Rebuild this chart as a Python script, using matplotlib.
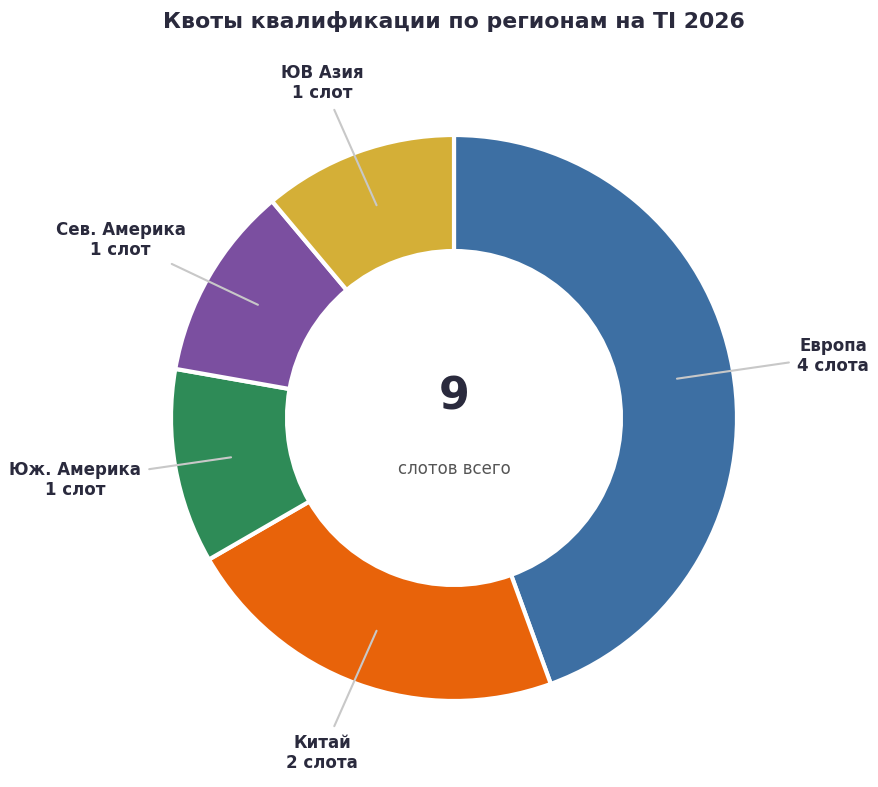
import matplotlib.pyplot as plt
import numpy as np

# данные
regions = ['Европа', 'Китай', 'Юж. Америка', 'Сев. Америка', 'ЮВ Азия']
slots = [4, 2, 1, 1, 1]
slot_words = ['слота', 'слота', 'слот', 'слот', 'слот']
colors = ['#3d6fa3', '#e8630a', '#2e8b57', '#7b4fa0', '#d4af37']

dark = '#2a2a3d'
W, H = 879, 787
cx, cy, R = 454, 418, 283

fig = plt.figure(figsize=(W / 100, H / 100), dpi=100)
ax = fig.add_axes([0, 0, 1, 1])

wedges, _ = ax.pie(slots, colors=colors, startangle=90, counterclock=False,
                   radius=1.0, wedgeprops=dict(width=0.41, edgecolor='white', linewidth=3))

ax.set_xlim(-cx / R, (W - cx) / R)
ax.set_ylim(-(H - cy) / R, cy / R)
ax.set_aspect('equal', adjustable='box')
ax.axis('off')

total = sum(slots)
for w, name, n, word in zip(wedges, regions, slots, slot_words):
    ang = np.deg2rad((w.theta1 + w.theta2) / 2)
    x, y = np.cos(ang), np.sin(ang)
    ax.annotate(f'{name}\n{n} {word}', xy=(0.8 * x, 0.8 * y),
                xytext=(1.36 * x, 1.26 * y), ha='center', va='center',
                fontsize=12, fontweight='bold', color=dark, linespacing=1.15,
                arrowprops=dict(arrowstyle='-', color='#c8c8c8', lw=1.5,
                                shrinkA=4, shrinkB=0))

ax.text(0, 0.075, str(total), ha='center', va='center', fontsize=32,
        fontweight='bold', color=dark)
ax.text(0, -0.18, 'слотов всего', ha='center', va='center', fontsize=12, color='#555555')

fig.text(cx / W, 1 - 22 / H, 'Квоты квалификации по регионам на TI 2026', ha='center',
         va='center', fontsize=15.8, fontweight='bold', color=dark)

fig.savefig('out.png', dpi=100, facecolor='white')
